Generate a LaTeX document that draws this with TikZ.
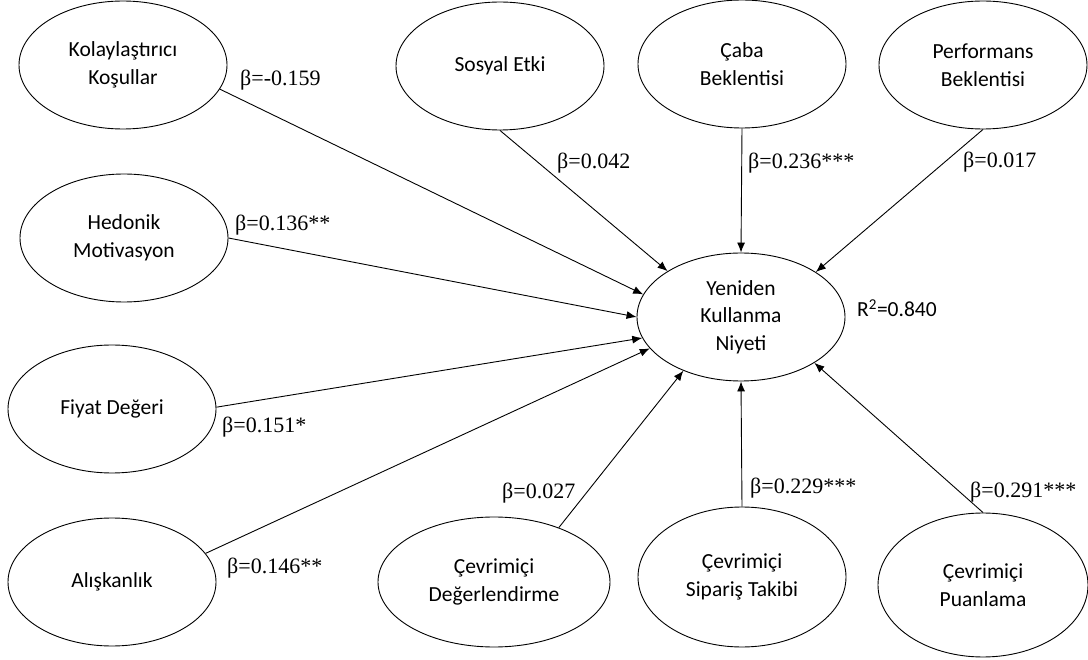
\documentclass[tikz,border=0pt]{standalone}
\usepackage{fontspec}
\setmainfont{Carlito}
\newfontfamily\tnr{Liberation Serif}
\usetikzlibrary{shapes.geometric,arrows.meta}
\tikzset{
  construct/.style={draw, ellipse, line width=0.9pt, inner sep=0pt, align=center,
    minimum width=208pt, minimum height=128pt,
    font=\fontsize{21.5}{27.5}\selectfont},
  arr/.style={line width=0.9pt, -{Latex[length=10pt,width=8pt]}},
  coef/.style={anchor=west, inner sep=0pt, font=\tnr\fontsize{22}{26}\selectfont}
}
\begin{document}
\begin{tikzpicture}[x=1pt,y=-1pt]
\fill[white] (0,0) rectangle (1088,660);
\useasboundingbox (0,0) rectangle (1088,660);
% constructs
\node[construct] (kol) at (123,65) {Kolaylaştırıcı\\Koşullar};
\node[construct] (sos) at (500,66) {Sosyal Etki};
\node[construct] (cab) at (742,64) {Çaba\\Beklentisi};
\node[construct] (per) at (983,65) {Performans\\Beklentisi};
\node[construct] (hed) at (124,238) {Hedonik\\Motivasyon};
\node[construct] (fiy) at (112,409) {Fiyat Değeri};
\node[construct] (ali) at (112,582) {Alışkanlık};
\node[construct, minimum width=232pt, minimum height=130pt] (deg) at (494,582) {Çevrimiçi\\Değerlendirme};
\node[construct, minimum height=140pt] (sip) at (742,577) {Çevrimiçi\\Sipariş Takibi};
\node[construct, minimum width=210pt, minimum height=144pt] (pua) at (983,585) {Çevrimiçi\\Puanlama};
\node[construct] (yen) at (741,317) {Yeniden\\Kullanma\\Niyeti};
% paths
\draw[arr] (kol.346) -- (yen.167);
\draw[arr] (sos.south) -- (yen.148);
\draw[arr] (cab.south) -- (yen.north);
\draw[arr] (per.south) -- (yen.31);
\draw[arr] (hed.east) -- (yen.west);
\draw[arr] (fiy.1) -- (yen.192);
\draw[arr] (ali.17) -- (yen.199);
\draw[arr] (deg.40) -- (yen.223);
\draw[arr] (sip.north) -- (yen.south);
\draw[arr] (pua.north) -- (yen.328);
% coefficients
\node[coef] (c1) at (240,80) {β=-0.159};
\node[coef] (c2) at (557,163) {β=0.042};
\node[coef] (c3) at (748,163) {β=0.236***};
\node[coef] (c4) at (963,162) {β=0.017};
\node[coef] (c5) at (235,225) {β=0.136**};
\node[coef] (c6) at (222,427) {β=0.151*};
\node[coef] (c7) at (227,568) {β=0.146**};
\node[coef] (c8) at (502,493) {β=0.027};
\node[coef] (c9) at (750,488) {β=0.229***};
\node[coef] (c10) at (970,492) {β=0.291***};
\node[anchor=west, inner sep=0pt, font=\fontsize{21.5}{26}\selectfont] (r2) at (857,308) {R\textsuperscript{2}=0.840};
\end{tikzpicture}
\end{document}
